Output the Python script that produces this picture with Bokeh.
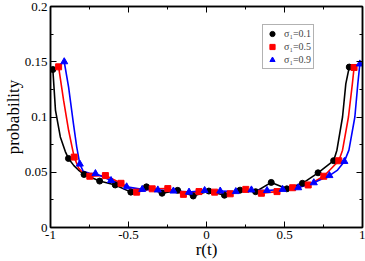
from bokeh.plotting import figure
from bokeh.models import (FixedTicker, CustomJSTickFormatter, LinearAxis, Legend,
                          LegendItem, Range1d)
from bokeh.embed import file_html
from bokeh.resources import INLINE

# ---- data ----
# sigma_1 = 0.1 (black circles)
black_mx = [-0.985, -0.885, -0.785, -0.685, -0.585, -0.485, -0.385, -0.285, -0.185, -0.085,
            0.015, 0.115, 0.215, 0.315, 0.415, 0.515, 0.615, 0.715, 0.815, 0.915]
black_my = [0.143, 0.0625, 0.048, 0.042, 0.0385, 0.032, 0.0368, 0.031, 0.0336, 0.0285,
            0.033, 0.0292, 0.0338, 0.0324, 0.0408, 0.035, 0.040, 0.0495, 0.0605, 0.1452]
black_lx = [-0.985, -0.968, -0.937, -0.905, -0.885, -0.85, -0.821, -0.785, -0.758, -0.685,
            -0.585, -0.485, -0.385, -0.285, -0.185, -0.085, 0.015, 0.115, 0.215, 0.315,
            0.415, 0.515, 0.615, 0.715, 0.815, 0.836, 0.872, 0.893, 0.915]
black_ly = [0.143, 0.106, 0.082, 0.0687, 0.0625, 0.056, 0.052, 0.048, 0.0464, 0.042,
            0.0385, 0.032, 0.0368, 0.031, 0.0336, 0.0285, 0.033, 0.0292, 0.0338, 0.0324,
            0.0408, 0.035, 0.040, 0.0495, 0.0605, 0.070, 0.100, 0.130, 0.1452]

# sigma_1 = 0.5 (red squares)
red_mx = [-0.948, -0.848, -0.748, -0.648, -0.548, -0.448, -0.348, -0.248, -0.148, -0.048,
          0.052, 0.152, 0.252, 0.352, 0.452, 0.552, 0.652, 0.752, 0.848, 0.946]
red_my = [0.1454, 0.0637, 0.0464, 0.047, 0.040, 0.032, 0.035, 0.0352, 0.030, 0.0325,
          0.032, 0.0305, 0.0345, 0.031, 0.0325, 0.036, 0.0385, 0.0464, 0.0604, 0.1448]
red_lx = [-0.948, -0.916, -0.884, -0.862, -0.848, -0.821, -0.784, -0.748, -0.648, -0.548,
          -0.448, -0.348, -0.248, -0.148, -0.048, 0.052, 0.152, 0.252, 0.352, 0.452,
          0.552, 0.652, 0.752, 0.848, 0.872, 0.91, 0.935, 0.946]
red_ly = [0.1454, 0.115, 0.088, 0.073, 0.0637, 0.054, 0.048, 0.0464, 0.047, 0.040,
          0.032, 0.035, 0.0352, 0.030, 0.0325, 0.032, 0.0305, 0.0345, 0.031, 0.0325,
          0.036, 0.0385, 0.0464, 0.0604, 0.070, 0.100, 0.130, 0.1448]

# sigma_1 = 0.9 (blue triangles)
blue_mx = [-0.912, -0.812, -0.712, -0.612, -0.512, -0.412, -0.312, -0.212, -0.112, -0.012,
           0.088, 0.188, 0.288, 0.388, 0.488, 0.588, 0.688, 0.788, 0.884, 0.983]
blue_my = [0.150, 0.0574, 0.0488, 0.0425, 0.0368, 0.0345, 0.034, 0.033, 0.032, 0.0335,
           0.033, 0.0325, 0.034, 0.0335, 0.0345, 0.036, 0.0405, 0.047, 0.0598, 0.148]
blue_lx = [-0.912, -0.884, -0.853, -0.832, -0.812, -0.79, -0.75, -0.712, -0.664, -0.612,
           -0.512, -0.412, -0.312, -0.212, -0.112, -0.012, 0.088, 0.188, 0.288, 0.388,
           0.488, 0.588, 0.688, 0.788, 0.84, 0.884, 0.913, 0.951, 0.97, 0.983]
blue_ly = [0.150, 0.127, 0.094, 0.073, 0.0574, 0.0508, 0.049, 0.0488, 0.046, 0.0425,
           0.0368, 0.0345, 0.034, 0.033, 0.032, 0.0335, 0.033, 0.0325, 0.034, 0.0335,
           0.0345, 0.036, 0.0405, 0.047, 0.052, 0.0598, 0.070, 0.100, 0.130, 0.148]

legend_labels = ["σ₁=0.1", "σ₁=0.5", "σ₁=0.9"]
x_ticks = [-1, -0.5, 0, 0.5, 1]
x_minor = [-0.75, -0.25, 0.25, 0.75]
y_ticks = [0, 0.05, 0.1, 0.15, 0.2]
y_minor = [0.025, 0.075, 0.125, 0.175]
x_title = "r(t)"
y_title = "probability"

FONT = "Liberation Serif, Times New Roman, DejaVu Serif, serif"

p = figure(width=365, height=261, output_backend="svg", toolbar_location=None,
           x_range=Range1d(-1, 1), y_range=Range1d(0, 0.2),
           min_border_left=45, min_border_right=3, min_border_top=6, min_border_bottom=32,
           background_fill_color="white", border_fill_color="white")
p.grid.visible = False
p.outline_line_color = "black"
p.outline_line_width = 1.5

fmt = CustomJSTickFormatter(code="return tick.toString();")
blank_fmt = CustomJSTickFormatter(code="return '';")

def style_axis(ax, ticks, minor, labels=True):
    ax.ticker = FixedTicker(ticks=ticks, minor_ticks=minor)
    ax.axis_line_color = "black"
    ax.axis_line_width = 1.5
    ax.major_tick_in = 6
    ax.major_tick_out = 0
    ax.minor_tick_in = 3
    ax.minor_tick_out = 0
    ax.major_tick_line_width = 1
    ax.minor_tick_line_width = 1
    ax.major_tick_line_color = "black"
    ax.minor_tick_line_color = "black"
    if labels:
        ax.formatter = fmt
        ax.major_label_text_font = FONT
        ax.major_label_text_font_size = "13px"
        ax.major_label_text_color = "black"
        ax.major_label_standoff = 3
    else:
        ax.formatter = blank_fmt
        ax.major_label_text_font_size = "1px"
        ax.major_label_standoff = 0

style_axis(p.xaxis[0], x_ticks, x_minor)
style_axis(p.yaxis[0], y_ticks, y_minor)

for ax, title, standoff in ((p.xaxis[0], x_title, -2), (p.yaxis[0], y_title, -1)):
    ax.axis_label = title
    ax.axis_label_text_font = FONT
    ax.axis_label_text_font_size = "17px"
    ax.axis_label_text_font_style = "normal"
    ax.axis_label_text_color = "black"
    ax.axis_label_standoff = standoff

top_ax = LinearAxis()
style_axis(top_ax, x_ticks, x_minor, labels=False)
p.add_layout(top_ax, "above")
right_ax = LinearAxis()
style_axis(right_ax, y_ticks, y_minor, labels=False)
p.add_layout(right_ax, "right")

# lines
p.line(black_lx, black_ly, line_color="black", line_width=1.6)
p.line(red_lx, red_ly, line_color="#ff0000", line_width=1.6)
p.line(blue_lx, blue_ly, line_color="#0000ff", line_width=1.6)

# markers
r_b = p.scatter(black_mx, black_my, marker="circle", size=6, fill_color="black", line_color="black")
r_r = p.scatter(red_mx, red_my, marker="square", size=6, fill_color="#ff0000", line_color="#ff0000")
r_u = p.scatter(blue_mx, blue_my, marker="triangle", size=7, fill_color="#0000ff", line_color="#0000ff")

legend = Legend(items=[LegendItem(label=legend_labels[0], renderers=[r_b]),
                       LegendItem(label=legend_labels[1], renderers=[r_r]),
                       LegendItem(label=legend_labels[2], renderers=[r_u])],
                location=(212, 158), margin=0, padding=2, spacing=0,
                glyph_width=14, glyph_height=13, label_height=13, label_standoff=5,
                label_text_font=FONT, label_text_font_size="10px",
                border_line_color="#666666", border_line_width=1,
                background_fill_color="white", background_fill_alpha=1)
p.add_layout(legend, "center")

open("out.html", "w").write(file_html(p, INLINE))
